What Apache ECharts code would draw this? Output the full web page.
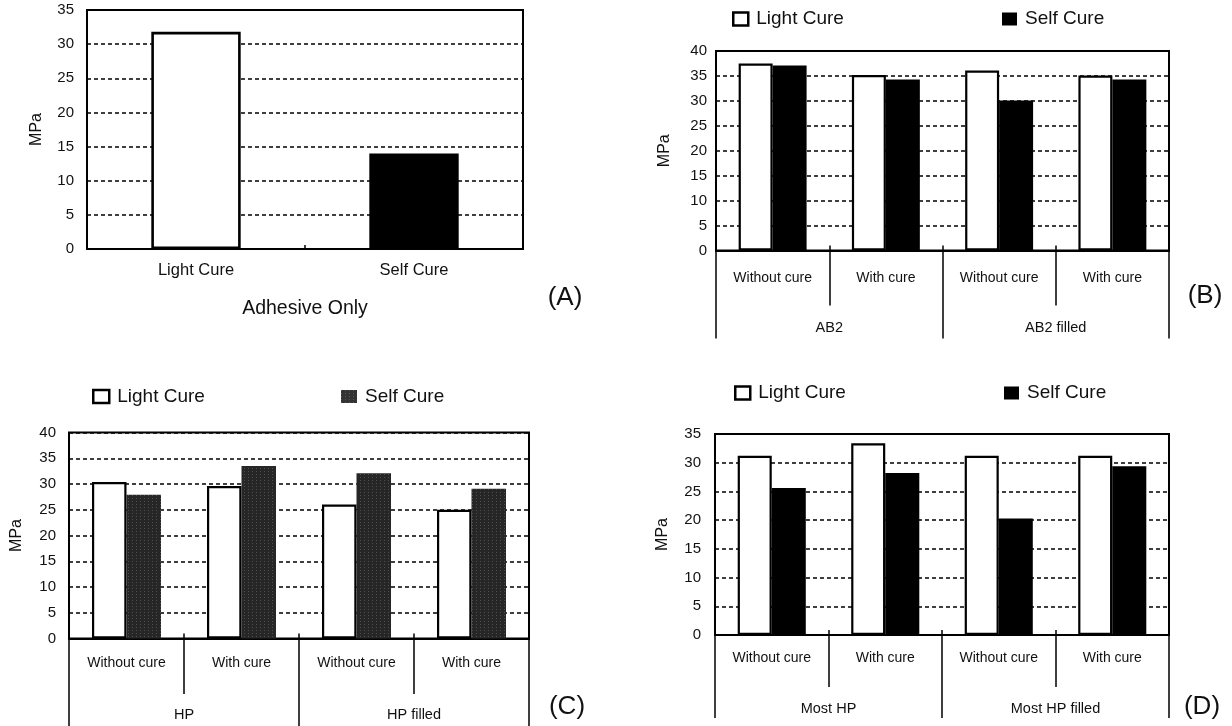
<!DOCTYPE html>
<html><head><meta charset="utf-8">
<script src="https://cdn.jsdelivr.net/npm/echarts@6/dist/echarts.min.js"></script>
<style>html,body{margin:0;padding:0;background:#fff}#c{width:1232px;height:726px}</style>
</head><body><div id="c"></div>
<script>
// ---- data ----
const catsA = ['Light Cure', 'Self Cure'];
const valuesA = [31.8, 14.0];
const nameA = 'Adhesive Only';
const subCats = ['Without cure', 'With cure', 'Without cure', 'With cure'];
const groupsB = ['AB2', 'AB2 filled'];
const lightB = [37.5, 35.2, 36.1, 35.1];
const selfB = [37.1, 34.3, 30.1, 34.3];
const groupsC = ['HP', 'HP filled'];
const lightC = [30.4, 29.6, 26.0, 25.0];
const selfC = [27.9, 33.5, 32.1, 29.1];
const groupsD = ['Most HP', 'Most HP filled'];
const lightD = [31.2, 33.4, 31.2, 31.2];
const selfD = [25.6, 28.2, 20.3, 29.4];
const seriesNames = ['Light Cure', 'Self Cure'];
const yMax = [35, 40, 40, 35];
const yStep = 5;
const panelTags = ['(A)', '(B)', '(C)', '(D)'];

// ---- styles ----
const F = 'Liberation Sans';
const TXT = '#111';
const lightStyle = { color: '#fff', borderColor: '#000', borderWidth: 2.2 };
const selfStyle = { color: '#000' };
const speckStyle = {
  color: '#262626',
  decal: { symbol: 'rect', symbolSize: 1, color: 'rgba(140,140,140,0.4)', dashArrayX: [1, 3], dashArrayY: [1, 2] }
};

const chart = echarts.init(document.getElementById('c'), null, { renderer: 'canvas' });

const grids = [
  { left: 87, top: 10, width: 436, height: 239 },
  { left: 716, top: 51, width: 453, height: 199.5 },
  { left: 69, top: 432.5, width: 460, height: 206 },
  { left: 715, top: 434, width: 454, height: 201 }
].map(g => Object.assign(g, { show: true, borderColor: '#000', borderWidth: 2, containLabel: false }));

const labelMargins = [13, 9, 13, 14];
const nameGaps = [42.5, 43, 44, 44];
const yAxes = grids.map((g, i) => ({
  type: 'value', gridIndex: i, min: 0, max: yMax[i], interval: yStep,
  axisLine: { show: false }, axisTick: { show: false },
  axisLabel: { margin: labelMargins[i], fontFamily: F, fontSize: 15, color: TXT },
  splitLine: { show: true, lineStyle: { type: [4, 3], color: '#000', width: 1.5 } },
  name: 'MPa', nameLocation: 'middle', nameGap: nameGaps[i],
  nameTextStyle: { fontFamily: F, fontSize: 16, color: TXT }
}));

const tickLine = { color: '#000', width: 1.5 };
const xAxes = [{
  type: 'category', gridIndex: 0, data: catsA, position: 'bottom',
  axisLine: { lineStyle: { color: '#000', width: 2 } },
  axisTick: { show: true, inside: true, length: 4, lineStyle: tickLine },
  axisLabel: { margin: 12.75, fontFamily: F, fontSize: 16.5, color: TXT },
  name: nameA, nameLocation: 'middle', nameGap: 50,
  nameTextStyle: { fontFamily: F, fontSize: 19.5, color: TXT }
}];
const multi = [
  { gi: 1, groups: groupsB, catLen: 55, catMargin: 20.5, grpLen: 88, grpMargin: 70.25 },
  { gi: 2, groups: groupsC, catLen: 55.5, catMargin: 17.5, grpLen: 95, grpMargin: 69.25 },
  { gi: 3, groups: groupsD, catLen: 52, catMargin: 16, grpLen: 83, grpMargin: 66.75 }
];
multi.forEach(m => {
  xAxes.push({
    type: 'category', gridIndex: m.gi, data: subCats, position: 'bottom',
    axisLine: { lineStyle: { color: '#000', width: 2 } },
    axisTick: { show: true, interval: 0, length: m.catLen, lineStyle: tickLine },
    axisLabel: { interval: 0, margin: m.catMargin, fontFamily: F, fontSize: 14, color: TXT }
  });
  xAxes.push({
    type: 'category', gridIndex: m.gi, data: subCats, position: 'bottom',
    axisLine: { show: false },
    axisTick: { show: true, inside: true, interval: 0, length: 5, lineStyle: tickLine },
    axisLabel: { show: false }
  });
  xAxes.push({
    type: 'category', gridIndex: m.gi, data: m.groups, position: 'bottom',
    axisLine: { show: false },
    axisTick: { show: true, interval: 0, length: m.grpLen, lineStyle: tickLine },
    axisLabel: { interval: 0, margin: m.grpMargin, fontFamily: F, fontSize: 14.5, color: TXT }
  });
});

const series = [{
  type: 'bar', xAxisIndex: 0, yAxisIndex: 0, barCategoryGap: '59%',
  data: valuesA.map((v, i) => ({ value: v, itemStyle: i === 0 ? Object.assign({}, lightStyle, { borderWidth: 2.6 }) : selfStyle })),
  silent: true
}];
const pairs = [[lightB, selfB, selfStyle], [lightC, selfC, speckStyle], [lightD, selfD, selfStyle]];
pairs.forEach((p, k) => {
  const xi = 1 + k * 3;
  series.push({ type: 'bar', name: seriesNames[0], xAxisIndex: xi, yAxisIndex: k + 1, data: p[0],
    barGap: '0%', barCategoryGap: '40%', itemStyle: lightStyle, silent: true });
  series.push({ type: 'bar', name: seriesNames[1], xAxisIndex: xi, yAxisIndex: k + 1, data: p[1],
    barGap: '0%', barCategoryGap: '40%', itemStyle: p[2], silent: true });
});

function legendItem(name, left, top, style, w) {
  return {
    left, top, orient: 'horizontal', selectedMode: false, itemWidth: w || 15, itemHeight: 13,
    textStyle: { fontFamily: F, fontSize: 19, color: TXT, padding: [0, 0, 0, 3] },
    data: [{ name, icon: 'rect', itemStyle: style }]
  };
}
const legIconLight = { color: '#fff', borderColor: '#000', borderWidth: 2.5 };
const legends = [
  legendItem(seriesNames[0], 727, 4.5, legIconLight),
  legendItem(seriesNames[1], 997, 4.5, { color: '#000' }),
  legendItem(seriesNames[0], 87, 382, legIconLight, 16),
  legendItem(seriesNames[1], 336, 382, { color: '#333', decal: speckStyle.decal }, 16),
  legendItem(seriesNames[0], 729, 378.5, legIconLight),
  legendItem(seriesNames[1], 999, 378.5, { color: '#000' })
];

const tagPos = [[565, 298], [1205, 296], [567, 707], [1202, 707]];
const graphic = panelTags.map((t, i) => ({
  type: 'text', x: tagPos[i][0], y: tagPos[i][1], silent: true,
  style: { text: t, fontFamily: F, fontSize: 26, fill: TXT, align: 'center', verticalAlign: 'middle' }
}));

chart.setOption({
  animation: false,
  backgroundColor: '#fff',
  grid: grids,
  xAxis: xAxes,
  yAxis: yAxes,
  legend: legends,
  series,
  graphic
});
</script>
</body></html>
